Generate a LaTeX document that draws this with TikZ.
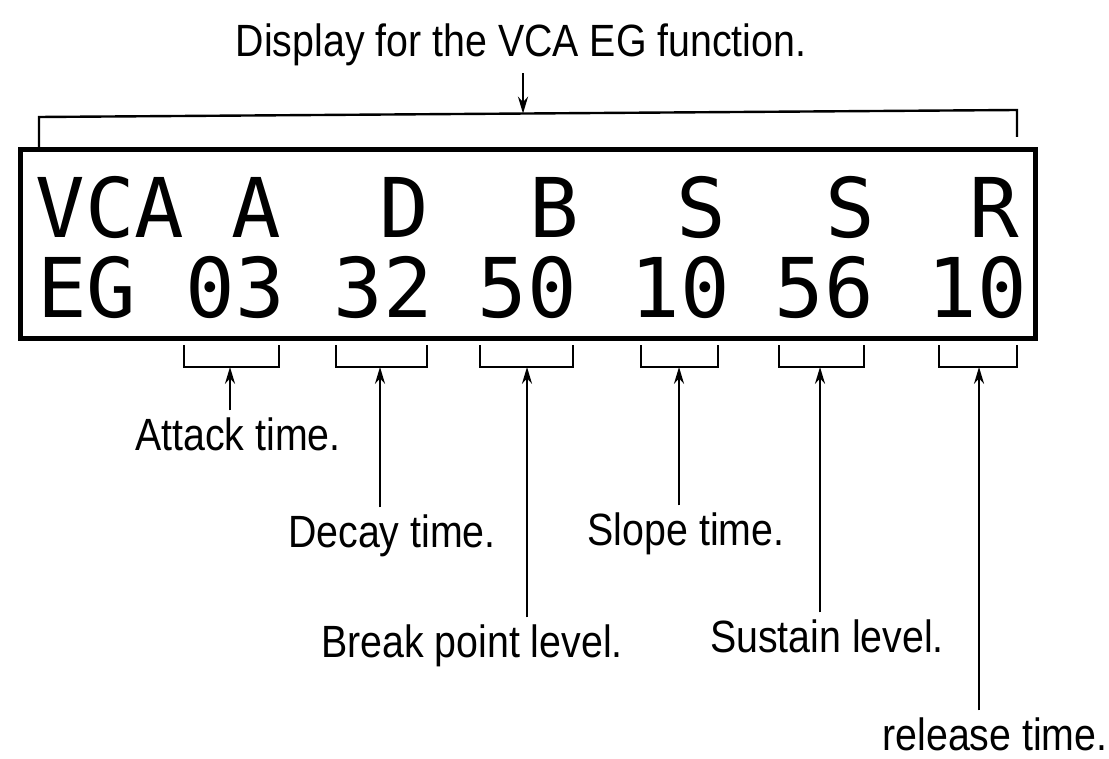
\documentclass[tikz,border=0pt]{standalone}
\usepackage{fontspec}
\setmainfont{Liberation Sans}[FakeStretch=0.87]
\newfontfamily\lcdfont{DejaVu Sans Mono}
\usetikzlibrary{arrows.meta}

\begin{document}
\begin{tikzpicture}[
  x=0.25pt, y=-0.25pt,
  font=\fontsize{11.3}{13}\selectfont,
  lbl/.style={anchor=base, inner sep=1.5pt},
  lcd/.style={anchor=base, inner sep=0pt,
              font=\lcdfont\fontsize{20.6}{22}\selectfont},
  brk/.style={line width=0.6pt},
  arr/.style={-{Stealth[length=4.2pt, width=2.5pt]}, line width=0.55pt}]

\useasboundingbox (0,0) rectangle (1109,758);

% the display
\draw[line width=1.25pt] (20,150) rectangle (1035,338);
\foreach \x/\t [count=\i] in {110/VCA,256/A,404/D,554/B,701/S,850/S,994/R}
  \node[lcd] (top\i) at (\x,238) {\t};
\foreach \x/\t [count=\i] in {87/EG,235/03,383/32,527/50,680/10,824/56,977/10}
  \node[lcd] (val\i) at (\x,317) {\t};

% brackets under the values
\foreach \l/\r/\m [count=\i] in {184/279/230,336/427/380,480/573/527,
                                 641/718/679,779/864/820,939/1017/979}{
  \draw[brk] (\l,345) |- (\r,367) -- (\r,345);
  \coordinate (b\i) at (\m,367);
}

% bracket over the display
\draw[brk] (39,147) -- (39,117) -- (1017,110) -- (1017,137);
\coordinate (topmid) at (523,113.5);

\node[lbl] (title)  at (521,57)  {Display for the VCA EG function.};
\node[lbl] (attack) at (238,450) {Attack time.};
\node[lbl] (decay)  at (392,547) {Decay time.};
\node[lbl] (bpl)    at (472,657) {Break point level.};
\node[lbl] (slope)  at (686,545) {Slope time.};
\node[lbl] (sus)    at (827,652) {Sustain level.};
\node[lbl] (rel)    at (995,750) {release time.};

\draw[arr] (title.south -| topmid) -- (topmid);
\foreach \n/\b in {attack/b1,decay/b2,bpl/b3,slope/b4,sus/b5,rel/b6}
  \draw[arr] (\n.north -| \b) -- (\b);

\end{tikzpicture}
\end{document}
